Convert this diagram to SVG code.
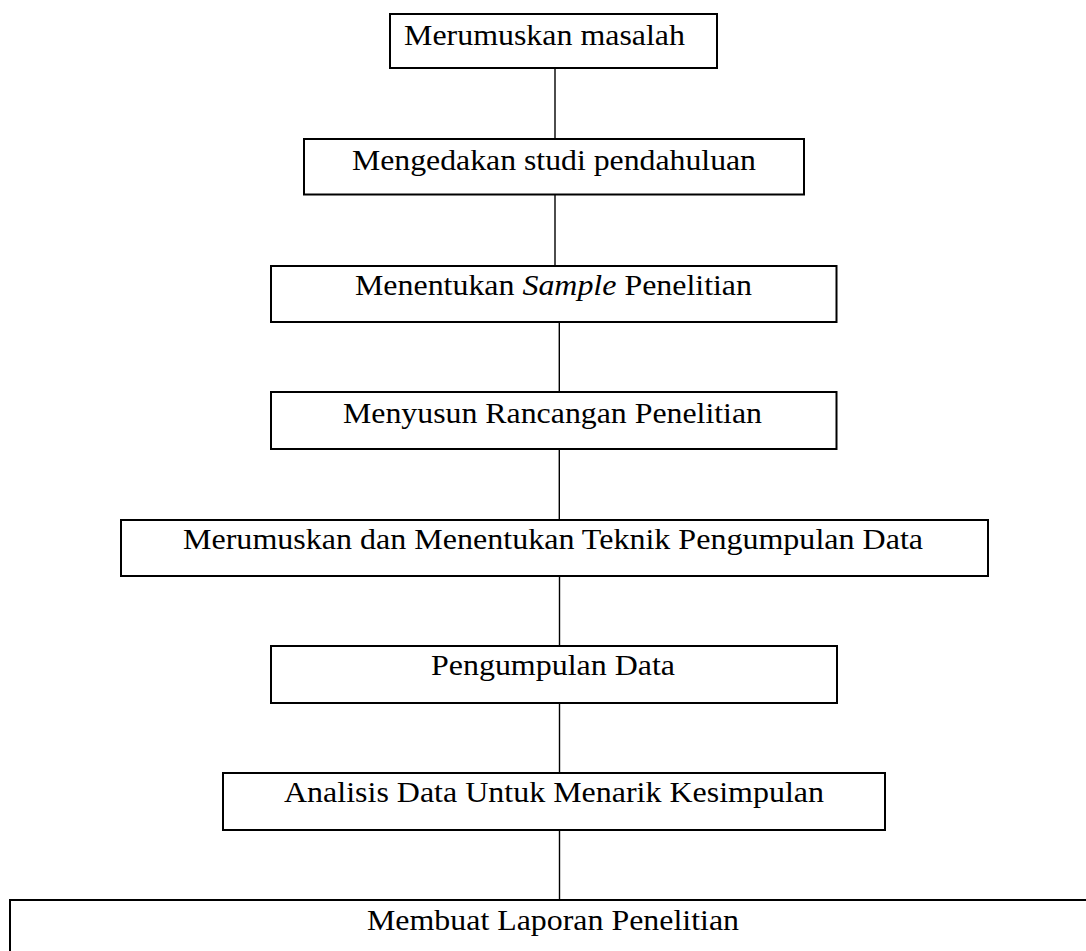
<svg xmlns="http://www.w3.org/2000/svg" width="1086" height="951" viewBox="0 0 1086 951">
<style>
.box{fill:#fff;stroke:#000;stroke-width:2}
.lbl{font-family:'Liberation Serif','Times New Roman',Times,serif;font-size:29px;fill:#000}
.con{stroke:#000;stroke-width:1.4;fill:none}
</style>
<rect width="1086" height="951" fill="#fff"/>
<g id="connectors">
<line class="con" x1="555" y1="68" x2="555" y2="139"/>
<line class="con" x1="555" y1="194.5" x2="555" y2="266"/>
<line class="con" x1="559.3" y1="322" x2="559.3" y2="392"/>
<line class="con" x1="559.3" y1="449" x2="559.3" y2="520"/>
<line class="con" x1="559.5" y1="576" x2="559.5" y2="646"/>
<line class="con" x1="559.5" y1="703" x2="559.5" y2="773"/>
<line class="con" x1="559.5" y1="830" x2="559.5" y2="900"/>
</g>
<g id="n1">
<rect class="box" x="390" y="14" width="327" height="54"/>
<text class="lbl" font-family="Liberation Serif" x="404" y="45" textLength="281" lengthAdjust="spacingAndGlyphs">Merumuskan masalah</text>
</g>
<g id="n2">
<rect class="box" x="304" y="139" width="500" height="55.5"/>
<text class="lbl" x="352" y="170" textLength="404" lengthAdjust="spacingAndGlyphs">Mengedakan studi pendahuluan</text>
</g>
<g id="n3">
<rect class="box" x="271" y="266" width="565.5" height="56"/>
<text class="lbl" x="355" y="295" textLength="397" lengthAdjust="spacingAndGlyphs">Menentukan <tspan font-style="italic">Sample</tspan> Penelitian</text>
</g>
<g id="n4">
<rect class="box" x="271" y="392" width="565.5" height="57"/>
<text class="lbl" x="343" y="423" textLength="419" lengthAdjust="spacingAndGlyphs">Menyusun Rancangan Penelitian</text>
</g>
<g id="n5">
<rect class="box" x="121" y="520" width="867" height="56"/>
<text class="lbl" x="183" y="549" textLength="740" lengthAdjust="spacingAndGlyphs">Merumuskan dan Menentukan Teknik Pengumpulan Data</text>
</g>
<g id="n6">
<rect class="box" x="271" y="646" width="566" height="57"/>
<text class="lbl" x="431" y="675" textLength="244" lengthAdjust="spacingAndGlyphs">Pengumpulan Data</text>
</g>
<g id="n7">
<rect class="box" x="223" y="773" width="662" height="57"/>
<text class="lbl" x="284" y="802" textLength="540" lengthAdjust="spacingAndGlyphs">Analisis Data Untuk Menarik Kesimpulan</text>
</g>
<g id="n8">
<rect class="box" x="10" y="900" width="1090" height="70"/>
<text class="lbl" x="367" y="930" textLength="372" lengthAdjust="spacingAndGlyphs">Membuat Laporan Penelitian</text>
</g>
</svg>
